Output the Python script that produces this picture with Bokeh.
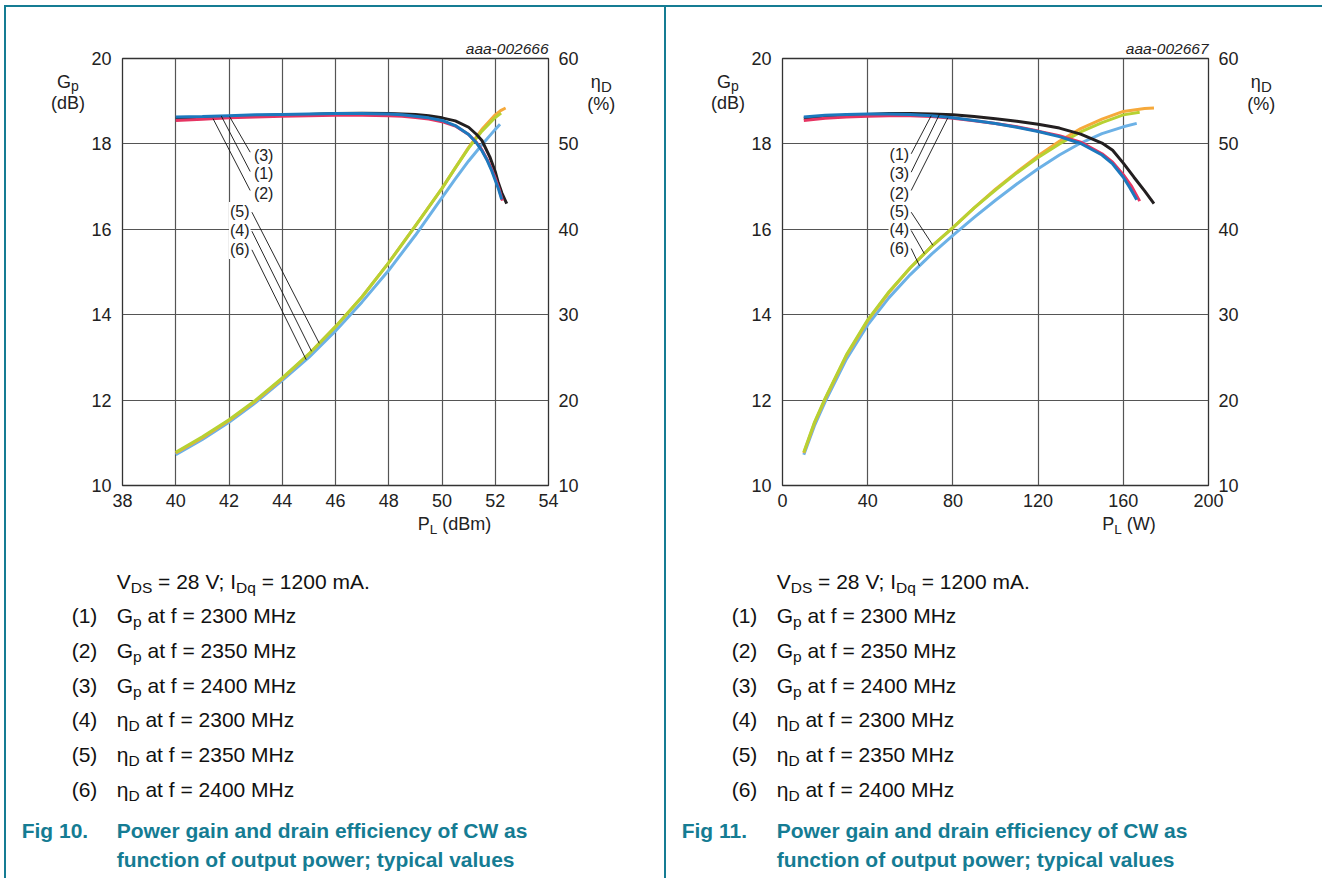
import numpy as np
from bokeh.plotting import figure
from bokeh.models import Range1d, LinearAxis, FixedTicker, Label, Div
from bokeh.layouts import row, column
from bokeh.embed import file_html
from bokeh.resources import INLINE

# ---------------- data: Fig 10 (P_L in dBm) ----------------
dbm_ticks = [38, 40, 42, 44, 46, 48, 50, 52, 54]
gain_ticks = [10, 12, 14, 16, 18, 20]
eta_ticks = [10, 20, 30, 40, 50, 60]

a_gp1_x = [40, 41, 42, 43, 44, 45, 46, 47, 48, 48.5, 49, 49.5, 50, 50.5, 51, 51.3, 51.5, 51.7, 51.85, 52.0, 52.12, 52.24]
a_gp1_y = [18.63, 18.64, 18.66, 18.68, 18.69, 18.70, 18.71, 18.71, 18.70, 18.68, 18.65, 18.61, 18.55, 18.43, 18.22, 18.02, 17.84, 17.61, 17.40, 17.15, 16.95, 16.70]
a_gp2_x = [40, 41, 42, 43, 44, 45, 46, 47, 48, 48.5, 49, 49.5, 50, 50.5, 51, 51.3, 51.5, 51.7, 51.85, 52.0, 52.14, 52.27]
a_gp2_y = [18.55, 18.58, 18.61, 18.63, 18.65, 18.66, 18.67, 18.67, 18.66, 18.65, 18.62, 18.58, 18.52, 18.42, 18.22, 18.03, 17.86, 17.63, 17.43, 17.20, 16.95, 16.67]
a_gp3_x = [40, 41, 42, 43, 44, 45, 46, 47, 48, 48.5, 49, 49.5, 50, 50.5, 51, 51.3, 51.5, 51.8, 52.0, 52.1, 52.25, 52.43]
a_gp3_y = [18.60, 18.62, 18.64, 18.66, 18.68, 18.69, 18.71, 18.72, 18.71, 18.70, 18.69, 18.66, 18.61, 18.54, 18.39, 18.22, 18.08, 17.69, 17.35, 17.12, 16.85, 16.60]

a_eta4_x = [40, 41, 42, 43, 44, 45, 46, 47, 48, 49, 50, 50.5, 51, 51.5, 52, 52.22]
a_eta4_y = [13.9, 15.7, 17.7, 20.0, 22.6, 25.4, 28.6, 32.1, 36.1, 40.4, 44.8, 47.2, 49.5, 51.5, 53.1, 53.6]
a_eta5_x = [40, 41, 42, 43, 44, 45, 46, 47, 48, 49, 50, 50.5, 51, 51.5, 52, 52.2, 52.39]
a_eta5_y = [13.8, 15.6, 17.6, 19.9, 22.5, 25.4, 28.6, 32.1, 36.1, 40.4, 44.8, 47.2, 49.6, 51.7, 53.4, 53.9, 54.2]
a_eta6_x = [40, 41, 42, 43, 44, 45, 46, 47, 48, 49, 50, 50.5, 51, 51.5, 52, 52.18]
a_eta6_y = [13.6, 15.4, 17.4, 19.7, 22.3, 25.0, 28.1, 31.5, 35.2, 39.3, 43.7, 45.9, 48.0, 49.9, 51.7, 52.3]

# ---------------- data: Fig 11 (P_L in W) ----------------
w_ticks = [0, 40, 80, 120, 160, 200]

b_gp1_x = [10, 20, 30, 40, 50, 60, 70, 80, 90, 100, 110, 120, 130, 140, 150, 155, 160, 163, 166.3]
b_gp1_y = [18.63, 18.67, 18.69, 18.70, 18.70, 18.69, 18.66, 18.61, 18.55, 18.48, 18.39, 18.29, 18.17, 18.01, 17.74, 17.53, 17.22, 16.98, 16.69]
b_gp2_x = [10, 20, 30, 40, 50, 60, 70, 80, 90, 100, 110, 120, 130, 140, 150, 155, 160, 164, 167.7]
b_gp2_y = [18.55, 18.60, 18.63, 18.65, 18.66, 18.66, 18.64, 18.60, 18.54, 18.48, 18.40, 18.30, 18.19, 18.04, 17.77, 17.57, 17.28, 17.00, 16.66]
b_gp3_x = [10, 20, 30, 40, 50, 60, 70, 80, 90, 100, 110, 120, 130, 140, 150, 155, 160, 165, 170, 174.4]
b_gp3_y = [18.60, 18.64, 18.67, 18.69, 18.71, 18.71, 18.70, 18.68, 18.64, 18.59, 18.53, 18.46, 18.37, 18.23, 18.02, 17.85, 17.55, 17.22, 16.90, 16.60]

b_eta4_x = [10, 15, 20, 30, 40, 50, 60, 70, 80, 90, 100, 110, 120, 130, 140, 150, 160, 167.7]
b_eta4_y = [13.9, 17.4, 20.2, 25.3, 29.4, 32.7, 35.5, 38.0, 40.2, 42.5, 44.6, 46.6, 48.4, 50.0, 51.4, 52.5, 53.4, 53.7]
b_eta5_x = [10, 15, 20, 30, 40, 50, 60, 70, 80, 90, 100, 110, 120, 130, 140, 150, 160, 170, 174.4]
b_eta5_y = [13.8, 17.3, 20.1, 25.2, 29.3, 32.6, 35.5, 38.0, 40.2, 42.5, 44.7, 46.7, 48.6, 50.3, 51.8, 52.9, 53.8, 54.15, 54.2]
b_eta6_x = [10, 15, 20, 30, 40, 50, 60, 70, 80, 90, 100, 110, 120, 130, 140, 150, 160, 166.3]
b_eta6_y = [13.6, 17.0, 19.8, 24.8, 28.8, 32.0, 34.7, 37.1, 39.3, 41.4, 43.4, 45.3, 47.1, 48.7, 50.1, 51.2, 52.0, 52.4]

items = [("(1)", "G", "p", "2300"), ("(2)", "G", "p", "2350"), ("(3)", "G", "p", "2400"),
         ("(4)", "η", "D", "2300"), ("(5)", "η", "D", "2350"), ("(6)", "η", "D", "2400")]

# ---------------- style ----------------
FONT = "Liberation Sans"
TEAL = "#157c93"
TXT = "#222222"
CAP = "#111111"
C_BLACK = "#231f20"
C_RED = "#e63462"
C_BLUE = "#1c78bd"
C_ORANGE = "#f6a93b"
C_GREEN = "#b7d132"
C_LBLUE = "#6cb1e6"
GRID = "#555555"

FT, FB = 58.0, 485.0   # page y of the chart frame top / bottom
FIG_TOP, FIG_BOT = 7, 515
FIG_W, FIG_H = 494, FIG_BOT - FIG_TOP
CAP_H = 363


def build_fig(fig_left, fl, fr, xr, xticks, tag, curves_g, curves_e, ann):
    x0, x1 = xr
    p = figure(width=FIG_W, height=FIG_H, output_backend="svg", toolbar_location=None,
               x_range=Range1d(x0, x1), y_range=Range1d(10, 20),
               min_border_left=int(fl - fig_left), min_border_right=int(fig_left + FIG_W - fr),
               min_border_top=int(FT - FIG_TOP), min_border_bottom=int(FIG_BOT - FB),
               margin=0)
    p.extra_y_ranges = {"eta": Range1d(10, 60)}
    p.background_fill_color = "white"
    p.border_fill_color = "white"
    p.outline_line_color = "#333333"
    p.outline_line_width = 1.3

    p.title.text = tag
    p.title.align = "right"
    p.title.text_font = FONT
    p.title.text_font_size = "15.5px"
    p.title.text_font_style = "italic"
    p.title.text_color = TXT
    p.title.standoff = 4

    p.xaxis.ticker = FixedTicker(ticks=xticks)
    p.yaxis.ticker = FixedTicker(ticks=gain_ticks)
    ax_r = LinearAxis(y_range_name="eta", ticker=FixedTicker(ticks=eta_ticks))
    p.add_layout(ax_r, "right")
    for ax, st in ((p.xaxis[0], 8), (p.yaxis[0], 11), (ax_r, 10)):
        ax.axis_line_color = None
        ax.major_tick_line_color = None
        ax.minor_tick_line_color = None
        ax.major_tick_in = 0
        ax.major_tick_out = 0
        ax.minor_tick_out = 0
        ax.major_label_standoff = st
        ax.major_label_text_font = FONT
        ax.major_label_text_font_size = "18px"
        ax.major_label_text_color = TXT
    p.xgrid.grid_line_color = GRID
    p.ygrid.grid_line_color = GRID
    p.xgrid.grid_line_width = 1.2
    p.ygrid.grid_line_width = 1.2

    def X(px):
        return x0 + (px - fl) * (x1 - x0) / (fr - fl)

    def Y(py):
        return 10 + (FB - py) * 10.0 / (FB - FT)

    def E(py):
        return 10 + (FB - py) * 50.0 / (FB - FT)

    for xs, ys, col in curves_e:
        p.line(xs, ys, line_color=col, line_width=3, y_range_name="eta")
    for xs, ys, col in curves_g:
        p.line(xs, ys, line_color=col, line_width=3)

    gx0, gy0, gx1, gy1 = [], [], [], []
    ex0, ey0, ex1, ey1 = [], [], [], []
    for text, lx, ly, sx, sy, endx, cx_, cy_, kind in ann:
        p.add_layout(Label(x=X(lx), y=Y(ly), text=text, text_font=FONT, text_font_size="16px",
                           text_color=TXT, text_align="left", text_baseline="middle",
                           background_fill_color="white", padding=1))
        if kind == "g":
            gx0.append(X(sx)); gy0.append(Y(sy)); gx1.append(endx)
            gy1.append(float(np.interp(endx, cx_, cy_)))
        else:
            ex0.append(X(sx)); ey0.append(E(sy)); ex1.append(endx)
            ey1.append(float(np.interp(endx, cx_, cy_)))
    p.segment(gx0, gy0, gx1, gy1, line_color="#111111", line_width=0.9)
    p.segment(ex0, ey0, ex1, ey1, line_color="#111111", line_width=0.9, y_range_name="eta")
    return p


def span(left, top, html, size, color=CAP, weight="normal", width=None, align="left"):
    w = f"width:{width}px;" if width is not None else ""
    return (f'<div style="position:absolute;left:{left}px;top:{top:.1f}px;{w}text-align:{align};'
            f'white-space:nowrap;font-size:{size}px;line-height:{size}px;font-weight:{weight};'
            f'color:{color};font-family:\'Liberation Sans\',Arial,sans-serif;">{html}</div>')


def sub(t, size, dy):
    return f'<span style="font-size:{size}px;position:relative;top:{dy}px;">{t}</span>'


def box(w, h, inner):
    return f'<div style="position:relative;width:{w}px;height:{h}px;overflow:visible;">{inner}</div>'


def side_left(w):
    inner = (span(32, 66.1, "G" + sub("p", 14, 3), 18, color=TXT, width=60, align="center") +
             span(32, 87.3, "(dB)", 18, color=TXT, width=60, align="center"))
    return Div(text=box(w, FIG_H, inner), width=w, height=FIG_H, margin=0)


def side_right(w):
    inner = (span(0, 66.3, "η" + sub("D", 15, 4), 18, color=TXT, width=38.6, align="center") +
             span(0, 87.8, "(%)", 18, color=TXT, width=38.6, align="center"))
    return Div(text=box(w, FIG_H, inner), width=w, height=FIG_H, margin=0)


def caption(w, fig_no, xunit, xl_left, xl_center):
    parts = []
    xl = "P" + sub("L", 13.5, 3.5) + " (" + xunit + ")"
    if xl_center is None:
        parts.append(span(xl_left, 0, xl, 18, color=TXT))
    else:
        parts.append(span(xl_center - 60, 0, xl, 18, color=TXT, width=120, align="center"))
    fs = 21
    parts.append(span(110.7, 55.5, "V" + sub("DS", 15.5, 4) + " = 28 V; I" + sub("Dq", 15.5, 4) +
                      " = 1200 mA.", fs))
    for k, (num, sym, sb, freq) in enumerate(items):
        top = 90.2 + 34.7 * k
        parts.append(span(65.7, top, num, fs))
        parts.append(span(110.7, top, sym + sub(sb, 15.5, 4) + " at f = " + freq + " MHz", fs))
    parts.append(span(15.7, 304.5, "Fig %d." % fig_no, 21, color=TEAL, weight="bold"))
    parts.append(span(110.7, 304.5, "Power gain and drain efficiency of CW as", 21, color=TEAL, weight="bold"))
    parts.append(span(110.7, 333.9, "function of output power; typical values", 21, color=TEAL, weight="bold"))
    return Div(text=box(w, CAP_H, "".join(parts)), width=w, height=CAP_H, margin=0)


curves_ga = [(a_gp3_x, a_gp3_y, C_BLACK), (a_gp2_x, a_gp2_y, C_RED), (a_gp1_x, a_gp1_y, C_BLUE)]
curves_ea = [(a_eta6_x, a_eta6_y, C_LBLUE), (a_eta5_x, a_eta5_y, C_ORANGE), (a_eta4_x, a_eta4_y, C_GREEN)]
ann_a = [
    ("(3)", 251.7, 155.0, 249, 151.7, 42.02, a_gp3_x, a_gp3_y, "g"),
    ("(1)", 251.7, 173.3, 249, 171.0, 41.71, a_gp1_x, a_gp1_y, "g"),
    ("(2)", 251.7, 192.7, 249, 190.0, 41.40, a_gp2_x, a_gp2_y, "g"),
    ("(5)", 227.7, 211.0, 250.7, 211.7, 45.39, a_eta5_x, a_eta5_y, "e"),
    ("(4)", 227.7, 230.0, 250.7, 230.7, 45.10, a_eta4_x, a_eta4_y, "e"),
    ("(6)", 227.7, 249.0, 250.7, 249.3, 44.90, a_eta6_x, a_eta6_y, "e"),
]
curves_gb = [(b_gp3_x, b_gp3_y, C_BLACK), (b_gp2_x, b_gp2_y, C_RED), (b_gp1_x, b_gp1_y, C_BLUE)]
curves_eb = [(b_eta6_x, b_eta6_y, C_LBLUE), (b_eta5_x, b_eta5_y, C_ORANGE), (b_eta4_x, b_eta4_y, C_GREEN)]
ann_b = [
    ("(1)", 887.3, 154.0, 910, 153.3, 69.8, b_gp1_x, b_gp1_y, "g"),
    ("(3)", 887.3, 173.3, 910, 171.7, 73.7, b_gp3_x, b_gp3_y, "g"),
    ("(2)", 887.3, 192.7, 910, 190.0, 77.6, b_gp2_x, b_gp2_y, "g"),
    ("(5)", 887.3, 210.7, 910, 211.7, 70.6, b_eta5_x, b_eta5_y, "e"),
    ("(4)", 887.3, 229.3, 910, 230.0, 66.6, b_eta4_x, b_eta4_y, "e"),
    ("(6)", 887.3, 248.3, 910, 248.0, 64.3, b_eta6_x, b_eta6_y, "e"),
]

# page x layout: 0-4 blank, 4-6 border, 6-664 panel 1, 664-666 divider, 666-1322 panel 2
p1 = build_fig(88, 121, 548, (38, 54), dbm_ticks, "aaa-002666", curves_ga, curves_ea, ann_a)
p2 = build_fig(748, 781, 1208, (0, 200), w_ticks, "aaa-002667", curves_gb, curves_eb, ann_b)

panel1 = column(row(side_left(82), p1, side_right(82), spacing=0),
                caption(658, 10, "dBm", 411.7, None), spacing=0)
panel2 = column(row(side_left(82), p2, side_right(80), spacing=0),
                caption(656, 11, "W", None, 463), spacing=0)

MAIN_H = FIG_H + CAP_H


def bar(w, h, color):
    return Div(text="", width=w, height=h, margin=0, styles={"background-color": color})


layout = column(
    bar(1322, 5, "white"),
    row(bar(4, 2, "white"), bar(1318, 2, TEAL), spacing=0),
    row(bar(4, MAIN_H, "white"), bar(2, MAIN_H, TEAL), panel1, bar(2, MAIN_H, TEAL), panel2, spacing=0),
    spacing=0)

open("out.html", "w").write(file_html(layout, INLINE))
